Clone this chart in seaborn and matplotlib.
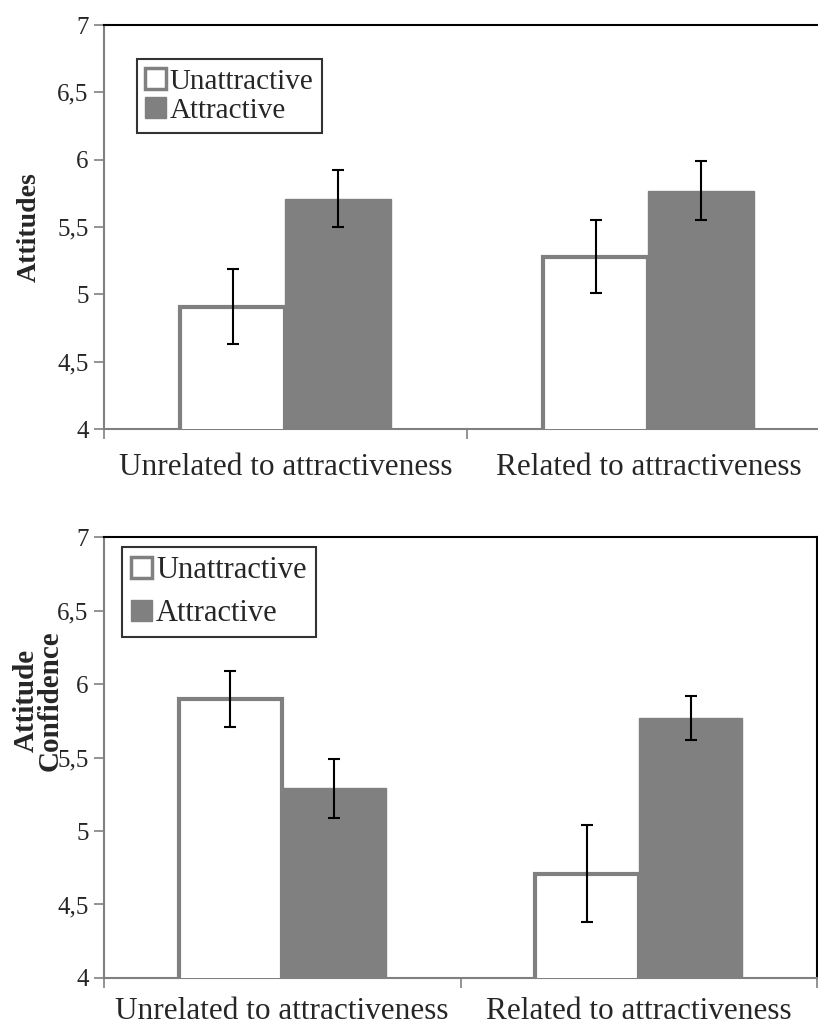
import matplotlib
matplotlib.use("Agg")
import matplotlib.pyplot as plt
import seaborn as sns
import pandas as pd
import numpy as np
from matplotlib.patches import Patch

categories = ["Unrelated to attractiveness", "Related to attractiveness"]
groups = ["Unattractive", "Attractive"]

att_unattractive = [4.91, 5.28]
att_attractive = [5.71, 5.77]
att_err_unattractive = [0.28, 0.27]
att_err_attractive = [0.21, 0.22]

conf_unattractive = [5.90, 4.71]
conf_attractive = [5.29, 5.77]
conf_err_unattractive = [0.19, 0.33]
conf_err_attractive = [0.20, 0.15]

yticks = [4, 4.5, 5, 5.5, 6, 6.5, 7]
ytick_labels = ["4", "4,5", "5", "5,5", "6", "6,5", "7"]

GRAY = "#808080"
sns.set_style("white")
plt.rcParams["font.family"] = ["Liberation Serif", "DejaVu Serif"]

fig = plt.figure(figsize=(8.18, 10.29), dpi=100)
ax1 = fig.add_axes([0.127, 0.583, 0.8875, 0.3927])
ax2 = fig.add_axes([0.127, 0.0496, 0.872, 0.4284])


def draw(ax, unatt, att, eu, ea, ylabel, ylabel_size, label_xy, legend_box,
         legend_spacing, legend_size, xpad):
    df = pd.DataFrame({
        "cat": categories * 2,
        "grp": [groups[0]] * 2 + [groups[1]] * 2,
        "val": list(unatt) + list(att),
    })
    sns.barplot(data=df, x="cat", y="val", hue="grp", order=categories,
                hue_order=groups, palette=["white", GRAY], width=0.58,
                errorbar=None, ax=ax, legend=False, saturation=1)
    bars = ax.patches
    errs = list(eu) + list(ea)
    vals = list(unatt) + list(att)
    for i, p in enumerate(bars[:4]):
        if i < 2:
            p.set_edgecolor(GRAY)
            p.set_linewidth(3.0)
            p.set_facecolor("white")
            p.set_zorder(3)
        else:
            p.set_edgecolor(GRAY)
            p.set_linewidth(1.0)
            p.set_facecolor(GRAY)
            p.set_zorder(2)
        x = p.get_x() + p.get_width() / 2
        ax.errorbar(x, vals[i], yerr=errs[i], fmt="none", ecolor="black",
                    elinewidth=1.5, capsize=4.5, capthick=1.5, zorder=5)

    ax.set_ylim(4, 7)
    ax.set_xlim(-0.5, 1.5)
    ax.set_yticks(yticks)
    ax.set_yticklabels(ytick_labels, fontsize=18)
    ax.set_xticks([0, 1])
    ax.set_xticklabels(categories, fontsize=22.5)
    ax.tick_params(axis="x", length=0, pad=xpad)
    ax.set_xticks([-0.5, 0.5, 1.5], minor=True)
    ax.tick_params(axis="x", which="minor", length=7, color=GRAY, width=1.2,
                   direction="out", bottom=True)
    ax.tick_params(axis="y", length=7, color=GRAY, width=1.2,
                   direction="out", left=True, pad=4)
    ax.set_xlabel("")
    ax.set_ylabel(ylabel, fontsize=ylabel_size, fontweight="bold", linespacing=0.85)
    ax.yaxis.set_label_coords(*label_xy)
    for s in ["left", "bottom"]:
        ax.spines[s].set_color(GRAY)
        ax.spines[s].set_linewidth(1.5)
    for s in ["top", "right"]:
        ax.spines[s].set_color("black")
        ax.spines[s].set_linewidth(1.5)
        ax.spines[s].set_visible(True)

    handles = [Patch(facecolor="white", edgecolor=GRAY, linewidth=2.5, label=groups[0]),
               Patch(facecolor=GRAY, edgecolor=GRAY, label=groups[1])]
    leg = ax.legend(handles=handles, loc="upper left", bbox_to_anchor=legend_box,
                    fontsize=legend_size, frameon=True, fancybox=False, edgecolor="black",
                    handlelength=0.7, handleheight=0.7, handletextpad=0.12,
                    labelspacing=legend_spacing, borderpad=0.3, borderaxespad=0)
    leg.get_frame().set_linewidth(1.5)


draw(ax1, att_unattractive, att_attractive, att_err_unattractive, att_err_attractive,
     "Attitudes", 20, (-0.085, 0.5), (0.045, 0.915), 0.1, 21, 17)
draw(ax2, conf_unattractive, conf_attractive, conf_err_unattractive, conf_err_attractive,
     "Attitude\nConfidence", 21, (-0.056, 0.63), (0.025, 0.977), 0.45, 22, 14)

fig.savefig("out.png", dpi=100)
